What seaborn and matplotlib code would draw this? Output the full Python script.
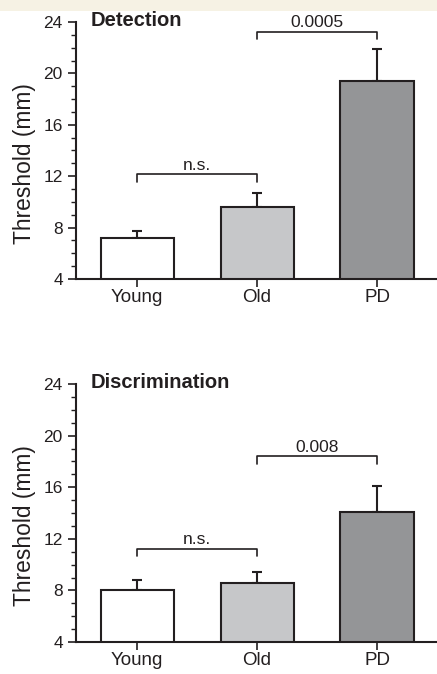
import matplotlib
matplotlib.use("Agg")
import matplotlib.pyplot as plt
import seaborn as sns
import pandas as pd
import numpy as np
from matplotlib.patches import Rectangle
from matplotlib.ticker import MultipleLocator

sns.set_style("ticks")
plt.rcParams['font.family'] = ['Liberation Sans', 'DejaVu Sans']

groups = ["Young", "Old", "PD"]
bar_colors = ["#ffffff", "#c6c7c9", "#939598"]

detection_mean = [7.2, 9.6, 19.4]
detection_err = [0.5, 1.1, 2.5]
discrimination_mean = [8.0, 8.6, 14.1]
discrimination_err = [0.8, 0.8, 2.0]

panel_titles = ["Detection", "Discrimination"]
ylabel = "Threshold (mm)"
yticks = [4, 8, 12, 16, 20, 24]

# brackets: (i, j, level, label)
detection_brackets = [(0, 1, 12.17, "n.s."), (1, 2, 23.25, "0.0005")]
discrimination_brackets = [(0, 1, 11.24, "n.s."), (1, 2, 18.4, "0.008")]

W, H = 437, 674
fig = plt.figure(figsize=(W / 100, H / 100), dpi=100)
fig.patches.append(Rectangle((0, 1 - 11 / H), 1, 11 / H, transform=fig.transFigure,
                             facecolor="#f6f2e4", edgecolor="none", zorder=0))

edge = "#231f20"
panels = [
    (detection_mean, detection_err, detection_brackets, panel_titles[0], (76, 22, 279)),
    (discrimination_mean, discrimination_err, discrimination_brackets, panel_titles[1], (76, 384, 642)),
]

for means, errs, brackets, title, (lx, ty, by) in panels:
    ax = fig.add_axes([lx / W, 1 - by / H, 1 - lx / W, (by - ty) / H])
    ax.set_facecolor("none")
    df = pd.DataFrame({"group": groups, "value": means})
    sns.barplot(data=df, x="group", y="value", hue="group", palette=bar_colors,
                order=groups, hue_order=groups, legend=False, width=0.61,
                edgecolor=edge, linewidth=1.5, ax=ax, zorder=2)
    xs = np.arange(len(groups))
    ax.errorbar(xs, means, yerr=[np.zeros(len(errs)), errs], fmt="none",
                ecolor=edge, elinewidth=1.5, capsize=3.6, capthick=1.5, zorder=1)
    for i, j, lev, lab in brackets:
        ax.plot([i, i, j, j], [lev - 0.6, lev, lev, lev - 0.6], color=edge, lw=1.2,
                clip_on=False)
        ax.text((i + j) / 2, lev + 0.35, lab, ha="center", va="baseline", fontsize=12.5,
                color=edge)
    ax.set_ylim(4, 24)
    ax.set_xlim(-0.51, 2.5)
    ax.set_yticks(yticks)
    ax.yaxis.set_minor_locator(MultipleLocator(1))
    ax.tick_params(axis="y", which="major", length=6, width=1.2, labelsize=12.5,
                   colors=edge, pad=3.5)
    ax.tick_params(axis="y", which="minor", length=3.5, width=1.0, colors=edge)
    ax.tick_params(axis="x", which="major", length=6, width=1.2, labelsize=13.5,
                   colors=edge, pad=1)
    for s in ["top", "right"]:
        ax.spines[s].set_visible(False)
    for s in ["left", "bottom"]:
        ax.spines[s].set_linewidth(1.5)
        ax.spines[s].set_color(edge)
    ax.set_xlabel("")
    ax.set_ylabel(ylabel, fontsize=16.4, color=edge)
    ax.yaxis.set_label_coords(-0.112, 0.45)
    ax.text(-0.39, 24.15, title, fontsize=14.5, fontweight="bold", color=edge,
            ha="left", va="center")

fig.savefig("out.png", dpi=100)
